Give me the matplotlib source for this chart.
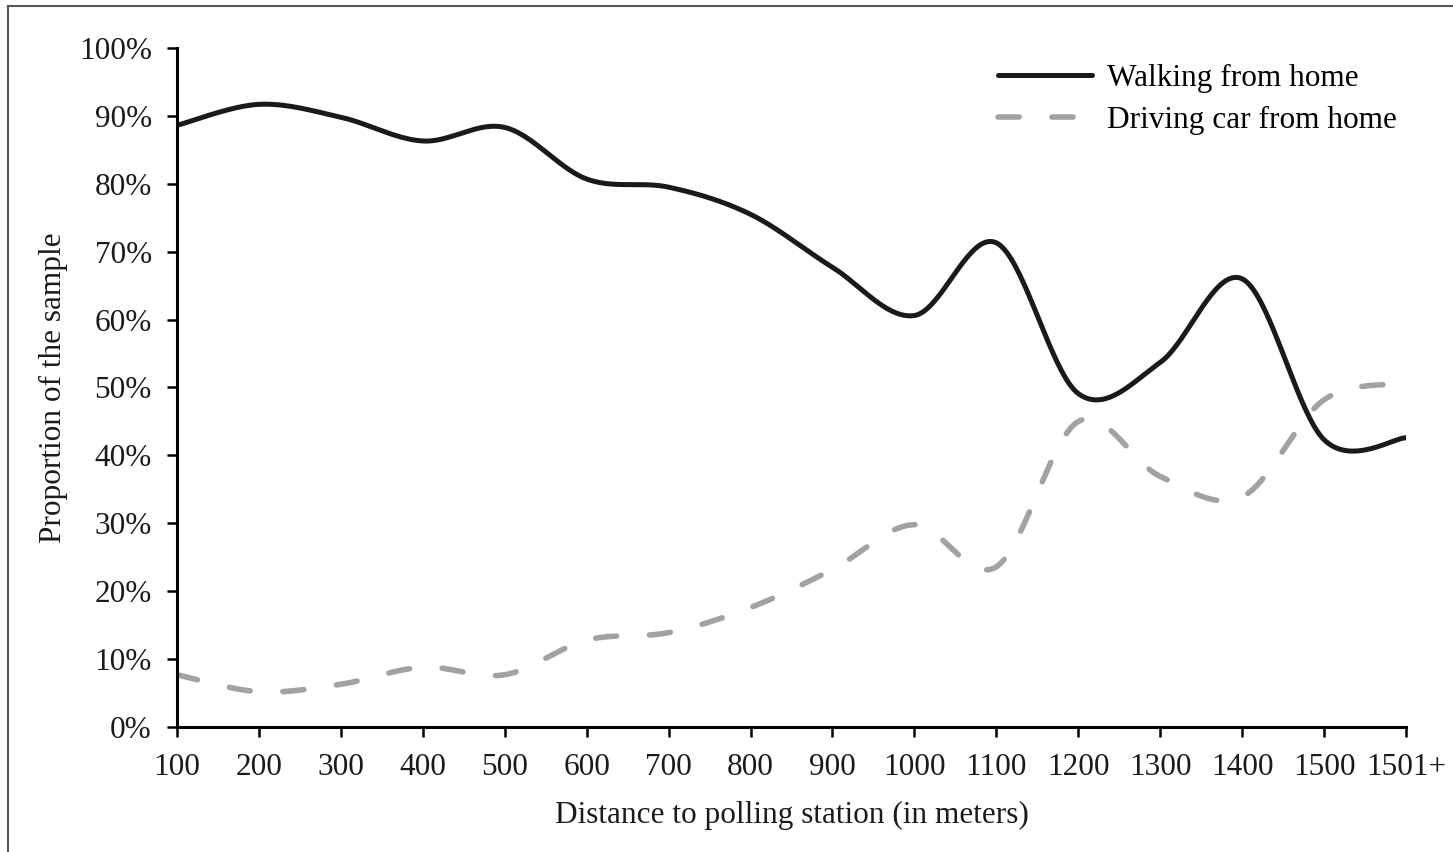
import matplotlib.pyplot as plt
import numpy as np
from matplotlib.lines import Line2D

plt.rcdefaults()
plt.rcParams['font.family'] = ['Liberation Serif', 'DejaVu Serif']

# distance categories (x axis)
distances = ['100', '200', '300', '400', '500', '600', '700', '800', '900',
             '1000', '1100', '1200', '1300', '1400', '1500', '1501+']
# share of sample (in %)
walking = [88.6, 91.7, 89.8, 86.3, 88.3, 80.7, 79.5, 75.5, 67.7,
           60.6, 71.3, 49.1, 53.7, 66.0, 42.3, 42.6]
driving = [7.7, 5.2, 6.3, 8.8, 7.7, 12.8, 13.9, 17.6, 23.2,
           29.8, 23.6, 45.0, 36.9, 33.9, 48.2, 50.6]


def smooth(y, n=40):
    # excel-like smoothed line: cubic bezier through each point
    y = np.asarray(y, dtype=float)
    x = np.arange(len(y), dtype=float)
    pts = np.column_stack([x, y])
    out = []
    t = np.linspace(0, 1, n)[:, None]
    for i in range(len(pts) - 1):
        p0 = pts[max(i - 1, 0)]
        p1 = pts[i]
        p2 = pts[i + 1]
        p3 = pts[min(i + 2, len(pts) - 1)]
        c1 = p1 + (p2 - p0) / 6.0
        c2 = p2 - (p3 - p1) / 6.0
        seg = ((1 - t) ** 3) * p1 + 3 * ((1 - t) ** 2) * t * c1 \
            + 3 * (1 - t) * t ** 2 * c2 + t ** 3 * p2
        out.append(seg if i == 0 else seg[1:])
    out = np.vstack(out)
    return out[:, 0], out[:, 1]


fs = 22.5

fig = plt.figure(figsize=(14.53, 8.52), dpi=100)
ax = fig.add_axes([0.1218, 0.1467, 0.8459, 0.797])

xs, ys = smooth(walking)
ax.plot(xs, ys, color='#1a1a1a', lw=3.6, solid_capstyle='round',
        label='Walking from home')
xs, ys = smooth(driving)
ax.plot(xs, ys, color='#a2a2a6', lw=4.0, dashes=(3.8, 5.9),
        dash_capstyle='round', label='Driving car from home')

ax.set_xlim(0, len(distances) - 1)
ax.set_ylim(0, 100)
ax.set_xticks(range(len(distances)))
ax.set_xticklabels(distances)
ax.set_yticks(range(0, 101, 10))
ax.set_yticklabels([f'{v}%' for v in range(0, 101, 10)])

for s in ['top', 'right']:
    ax.spines[s].set_visible(False)
for s in ['left', 'bottom']:
    ax.spines[s].set_linewidth(2.2)
    ax.spines[s].set_color('black')

ax.tick_params(axis='both', labelsize=fs, length=7, width=1.8, color='black',
               labelcolor='#1a1a1a')
ax.tick_params(axis='y', pad=11)
ax.tick_params(axis='x', pad=12)

ax.set_xlabel('Distance to polling station (in meters)', fontsize=fs,
              color='#1a1a1a', labelpad=13)
ax.set_ylabel('Proportion of the sample', fontsize=fs, color='#1a1a1a',
              labelpad=8)

ax.legend(loc='upper right', bbox_to_anchor=(1.003, 0.995), frameon=False,
          fontsize=fs, handlelength=3.0, handletextpad=0.5,
          labelspacing=0.42, borderaxespad=0.0)

# thin frame around the figure (left and top edges visible)
fig.add_artist(Line2D([0.0055, 0.0055], [0.0, 0.9925], color='#555555',
                      lw=1.5, transform=fig.transFigure))
fig.add_artist(Line2D([0.0055, 1.0], [0.9925, 0.9925], color='#555555',
                      lw=1.5, transform=fig.transFigure))

fig.savefig('out.png', dpi=100)
